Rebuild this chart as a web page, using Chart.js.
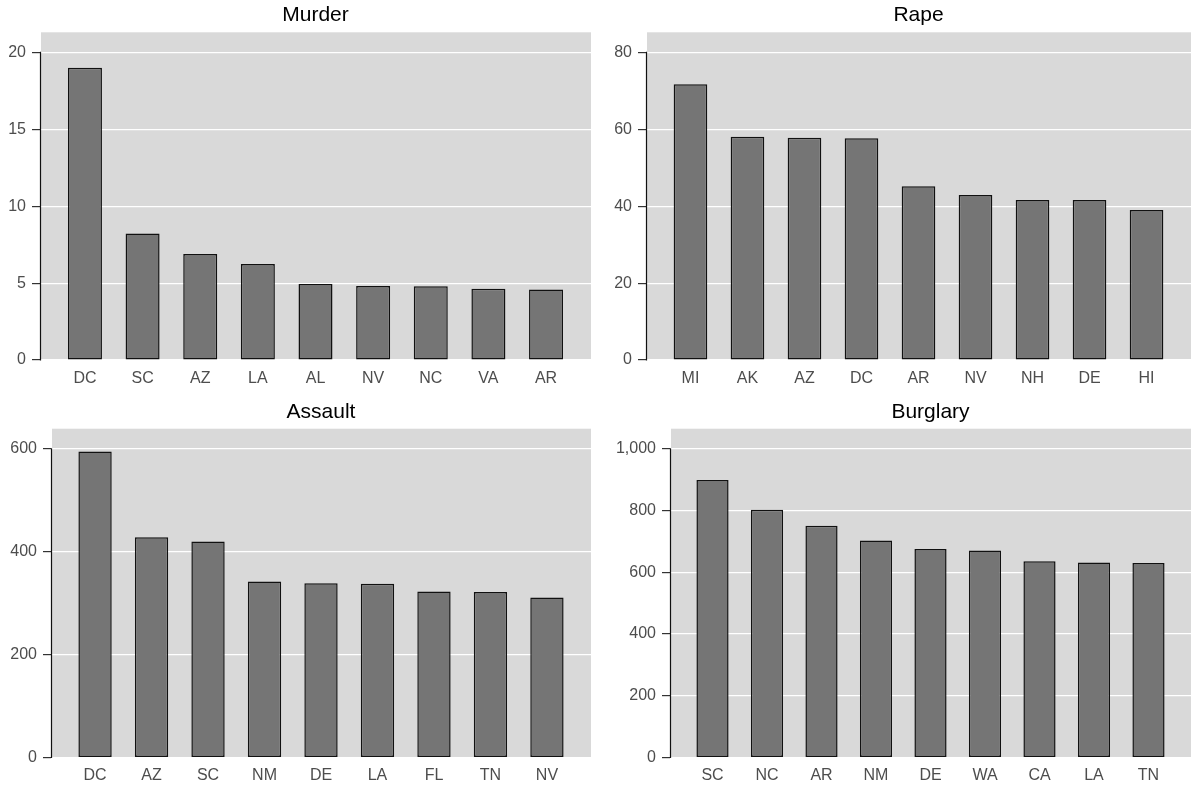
<!DOCTYPE html>
<html>
<head>
<meta charset="utf-8">
<script src="https://cdn.jsdelivr.net/npm/chart.js@4.4.1/dist/chart.umd.min.js"></script>
<style>
  html, body { margin: 0; padding: 0; background: #fff; overflow: hidden; }
  .panel { position: absolute; }
</style>
</head>
<body>
<div class="panel" style="left:0px;top:0px"><canvas id="murderChart" width="591" height="395"></canvas></div>
<div class="panel" style="left:600px;top:0px"><canvas id="rapeChart" width="591" height="395"></canvas></div>
<div class="panel" style="left:0px;top:395px"><canvas id="assaultChart" width="591" height="394"></canvas></div>
<div class="panel" style="left:600px;top:395px"><canvas id="burglaryChart" width="591" height="394"></canvas></div>
<script>
// values
const murderStates = ['DC', 'SC', 'AZ', 'LA', 'AL', 'NV', 'NC', 'VA', 'AR'];
const murderRates = [19.0, 8.23, 6.89, 6.24, 4.94, 4.81, 4.79, 4.64, 4.59];
const murderTicks = [0, 5, 10, 15, 20];

const rapeStates = ['MI', 'AK', 'AZ', 'DC', 'AR', 'NV', 'NH', 'DE', 'HI'];
const rapeRates = [71.7, 58.1, 57.8, 57.7, 45.2, 42.9, 41.6, 41.6, 39.0];
const rapeTicks = [0, 20, 40, 60, 80];

const assaultStates = ['DC', 'AZ', 'SC', 'NM', 'DE', 'LA', 'FL', 'TN', 'NV'];
const assaultRates = [595, 428, 420, 342, 339, 338, 323, 322, 311];
const assaultTicks = [0, 200, 400, 600];

const burglaryStates = ['SC', 'NC', 'AR', 'NM', 'DE', 'WA', 'CA', 'LA', 'TN'];
const burglaryRates = [899, 803, 751, 703, 676, 671, 636, 632, 630];
const burglaryTicks = [0, 200, 400, 600, 800, 1000];

Chart.defaults.font.family = '"Liberation Sans", Arial, Helvetica, sans-serif';
Chart.defaults.animation = false;

const panelBackground = {
    id: 'panelBackground',
    beforeDraw(chart) {
        const a = chart.chartArea;
        const c = chart.ctx;
        c.save();
        c.fillStyle = '#d9d9d9';
        c.fillRect(a.left + 1, a.top, a.right - a.left - 1, a.bottom - a.top);
        c.restore();
    }
};

// y axis line only runs from the first to the last tick
const rangeAxisLine = {
    id: 'rangeAxisLine',
    afterDraw(chart) {
        const y = chart.scales.y;
        const first = y.ticks[0].value;
        const last = y.ticks[y.ticks.length - 1].value;
        const c = chart.ctx;
        const x = chart.chartArea.left + 0.5;
        c.save();
        c.strokeStyle = '#111111';
        c.lineWidth = 1.2;
        c.beginPath();
        c.moveTo(x, y.getPixelForValue(first) + 0.6);
        c.lineTo(x, y.getPixelForValue(last) - 0.6);
        c.stroke();
        c.restore();
    }
};

function paintPanel(id, title, states, values, ticks, box) {
    const topTick = ticks[ticks.length - 1];
    return new Chart(document.getElementById(id), {
        type: 'bar',
        data: {
            datasets: [{
                data: values.map((v, i) => ({ x: i, y: v })),
                backgroundColor: '#757575',
                borderColor: '#111111',
                borderWidth: 1.5,
                borderSkipped: false,
                barPercentage: 0.59,
                categoryPercentage: 1
            }]
        },
        options: {
            responsive: false,
            layout: { padding: 0 },
            plugins: {
                legend: { display: false },
                tooltip: { enabled: false },
                title: {
                    display: true,
                    text: title,
                    color: '#000',
                    fullSize: false,
                    font: { size: 21, weight: 'normal', lineHeight: 1.2 },
                    padding: { top: box.titleTop, bottom: box.titleBottom }
                }
            },
            scales: {
                x: {
                    type: 'linear',
                    min: -0.78,
                    max: states.length - 1 + 0.78,
                    offset: false,
                    grid: { display: false, drawTicks: false },
                    border: { display: false },
                    afterBuildTicks: s => { s.ticks = states.map((_, i) => ({ value: i })); },
                    afterFit: s => {
                        s.height = box.xAxisHeight;
                        s.paddingLeft = 0;
                        s.paddingRight = 0;
                    },
                    ticks: {
                        autoSkip: false,
                        maxRotation: 0,
                        includeBounds: false,
                        padding: 8.5,
                        color: '#4d4d4d',
                        font: { size: 16 },
                        callback: v => states[v]
                    }
                },
                y: {
                    min: 0,
                    max: topTick * 1.0655,
                    grid: { color: '#ffffff', lineWidth: 1.2, tickColor: '#333333', tickLength: 8 },
                    border: { display: false },
                    afterBuildTicks: s => { s.ticks = ticks.map(v => ({ value: v })); },
                    afterFit: s => {
                        s.width = box.yAxisWidth;
                        s.paddingTop = 0;
                        s.paddingBottom = 0;
                    },
                    ticks: {
                        includeBounds: false,
                        padding: 6,
                        color: '#4d4d4d',
                        font: { size: 16 },
                        callback: v => v.toLocaleString('en-US')
                    }
                }
            }
        },
        plugins: [panelBackground, rangeAxisLine]
    });
}

paintPanel('murderChart', 'Murder', murderStates, murderRates, murderTicks,
    { yAxisWidth: 40, xAxisHeight: 35, titleTop: 2.2, titleBottom: 4.9 });
paintPanel('rapeChart', 'Rape', rapeStates, rapeRates, rapeTicks,
    { yAxisWidth: 46, xAxisHeight: 35, titleTop: 2.2, titleBottom: 4.9 });
paintPanel('assaultChart', 'Assault', assaultStates, assaultRates, assaultTicks,
    { yAxisWidth: 51, xAxisHeight: 31.5, titleTop: 4.4, titleBottom: 4.1 });
paintPanel('burglaryChart', 'Burglary', burglaryStates, burglaryRates, burglaryTicks,
    { yAxisWidth: 70, xAxisHeight: 31.5, titleTop: 4.4, titleBottom: 4.1 });
</script>
</body>
</html>
